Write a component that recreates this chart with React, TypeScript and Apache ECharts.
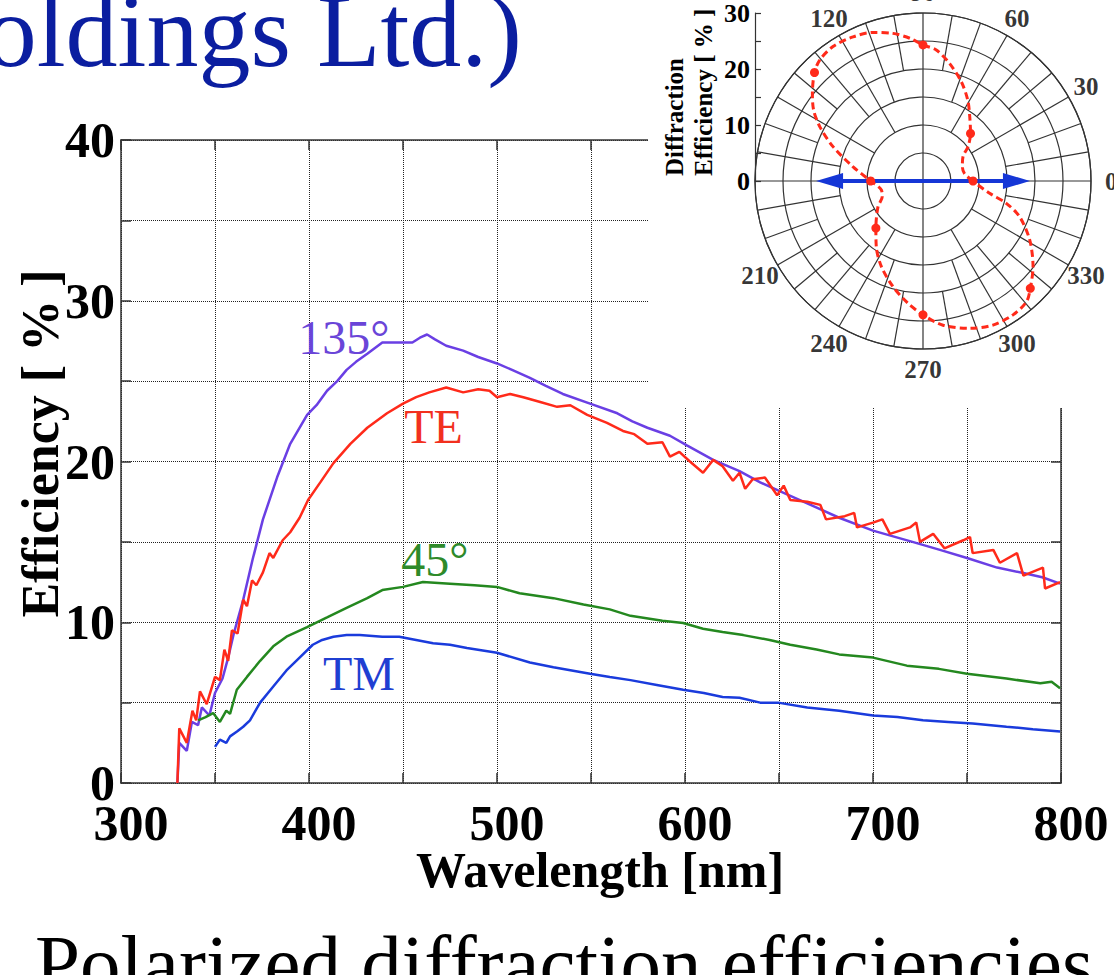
import React, { useEffect, useRef } from 'react';
import * as echarts from 'echarts';

const SERIF = "'Liberation Serif', 'Times New Roman', Times, serif";

// ---- Main chart data: [wavelength nm, efficiency %] ----
const te135Data = [[330,0],[331,2.5],[335,2.0],[337.7,3.8],[341,3.6],[343,4.7],[347,4.2],[350,5.6],[354,6.5],[357,7.8],[360,9.3],[365,11.4],[370,13.9],[375.5,16.4],[383,19.0],[390,21.1],[399,22.9],[404,23.5],[409.6,24.4],[415,25.0],[420,25.7],[425,26.2],[431,26.7],[439,27.4],[445,27.4],[450,27.4],[455,27.4],[459,27.7],[462.8,27.9],[467,27.6],[473,27.2],[482,26.9],[490,26.5],[500,26.1],[508,25.7],[517.5,25.2],[526,24.7],[535,24.2],[549.5,23.6],[564,23.0],[572,22.5],[580,22.1],[592,21.6],[601,21.0],[615,20.1],[629,19.4],[640,18.7],[649.5,18.2],[665,17.4],[682,16.5],[700,15.7],[721,15.0],[735.6,14.5],[750,14.0],[766,13.4],[780,13.06],[790,12.8],[799.5,12.4]];

const teData = [[330,0],[331,3.4],[335,2.5],[338,4.5],[340,3.9],[342,5.7],[345.6,4.9],[350,6.6],[352.6,6.4],[355,8.3],[357,7.6],[359,9.5],[362,9.3],[365,11.4],[367,11.0],[369.7,12.6],[372,12.3],[375.5,13.1],[379,14.3],[381,14.0],[386,15.1],[390,15.6],[395,16.5],[399.5,17.6],[406,18.7],[413,19.9],[422,21.1],[431,22.1],[441.5,23.0],[450,23.6],[457,24.0],[464,24.3],[473,24.6],[482,24.3],[490,24.5],[496,24.4],[500,24.0],[507,24.2],[514,24.0],[523,23.7],[532,23.4],[539,23.5],[548,22.9],[558.5,22.4],[567,21.9],[573,21.7],[580,21.1],[588,21.2],[592,20.3],[597,20.6],[602.6,20.0],[609.6,19.3],[615,20.1],[620,19.7],[625.5,18.8],[629,19.3],[632,18.3],[636,18.9],[642.5,19.0],[649,17.9],[652.5,18.5],[656,17.6],[665,17.5],[672,17.3],[675,16.4],[685,16.6],[690,16.8],[691.5,15.9],[700,16.2],[705,16.4],[709,15.5],[719.7,15.9],[723,16.2],[725,15.0],[732,15.5],[738,14.6],[748,15.1],[751.6,15.3],[753,14.3],[764,14.5],[767.5,13.7],[776.6,14.3],[780,12.9],[790.4,13.4],[791.5,12.1],[799.5,12.5]];

const te45Data = [[341,3.9],[345,4.1],[349,4.35],[352.6,3.8],[356,4.5],[358,4.3],[361.6,5.8],[367,6.6],[374,7.6],[381,8.5],[388,9.1],[399,9.7],[409.6,10.3],[420,10.9],[431,11.5],[439,12.0],[450,12.2],[460.6,12.5],[475,12.4],[488,12.3],[500,12.2],[512,11.8],[530,11.5],[546,11.1],[560,10.8],[571,10.4],[588,10.1],[599,9.95],[609.6,9.6],[620,9.4],[631,9.2],[645,8.9],[656,8.6],[670,8.3],[682,8.0],[700,7.8],[718,7.3],[735,7.1],[750,6.8],[771,6.5],[789,6.2],[795,6.3],[799.5,5.9]];

const tmData = [[350,2.25],[352.6,2.7],[356,2.5],[358,2.9],[361.7,3.2],[365,3.5],[368.6,3.9],[374,5.0],[381,6.0],[388,7.0],[395,7.8],[402,8.6],[407,8.9],[413,9.1],[420,9.2],[427,9.2],[439,9.1],[448,9.1],[457,8.9],[466,8.7],[475,8.6],[484,8.4],[500,8.1],[517.5,7.5],[530,7.2],[549.5,6.8],[560,6.6],[571,6.4],[585,6.1],[599,5.8],[610,5.6],[620,5.35],[629,5.3],[640,5.0],[649.5,5.0],[665,4.7],[682,4.5],[700,4.2],[713,4.1],[726.6,3.9],[740,3.8],[753,3.7],[771,3.5],[785,3.35],[799.5,3.2]];

const seriesNames = ['135°', 'TE', '45°', 'TM'];
const seriesColors = ['#6a3fe4', '#ff2a1a', '#24881f', '#1a3bdc'];
const labelColors = ['#6a45d8', '#f2301e', '#2e8a2a', '#1f3fd2'];
const labelAnchors = [[418.6, 27.7], [466.2, 22.2], [467, 13.9], [426.6, 6.8]];

// ---- Inset polar data: [efficiency %, polarization angle deg] ----
const polarCurve = [[8.93,0],[7.55,9.5],[7.48,20],[8.36,31.3],[10.1,37.3],[12.0,45],[14.2,54],[16.5,61],[19.0,68.9],[21.5,77.2],[23.5,84.2],[24.3,90],[25.6,95.3],[26.9,101.5],[28.0,108.6],[28.6,115.9],[28.9,123.8],[28.4,130.5],[27.4,135],[25.2,141.6],[23.3,147],[20.8,152.3],[17.2,159.1],[12.8,168.4],[9.35,180],[7.6,192.2],[7.8,201],[9.25,209.7],[11.9,225],[14.4,234.6],[17.0,244.1],[19.6,254.1],[22.0,263],[23.9,270],[26.0,277.9],[27.6,287.6],[28.6,295.9],[28.8,303.9],[28.4,310.6],[27.1,315],[24.9,322.1],[21.8,331],[18.4,339.7],[15.4,345],[12.1,349.5],[9.85,355.8],[8.93,360]];
const polarMarkers = [[8.93,0],[12.0,45],[24.3,90],[27.4,135],[9.35,180],[11.9,225],[23.9,270],[27.1,315]];
const arrowTips = [[19.1, 0], [19.1, 180]];

const angleLabelValues = [0, 30, 60, 90, 120, 210, 240, 270, 300, 330];
const angleLabelRadius = 33.6;

// spokes: angle sets and the radius (%) where they start
const spokesAxes = [0, 90, 180, 270];
const spokes30 = [30, 60, 120, 150, 210, 240, 300, 330];
const spokes20 = [10, 50, 70, 110, 130, 170, 190, 230, 250, 290, 310, 350];
const spokes10 = [20, 40, 80, 100, 140, 160, 200, 220, 260, 280, 320, 340];
const spokeStarts = [0, 10, 15, 20];

const xTicks = { min: 300, max: 800, step: 50, labelStep: 100 };
const yTicks = { min: 0, max: 40, step: 5, labelStep: 10 };
const rTicks = { min: 0, max: 30, step: 5, labelStep: 10 };

function buildOption() {
  const axisColor = '#333';
  const spokesData: number[][] = [];
  [spokesAxes, spokes30, spokes20, spokes10].forEach((set, i) => {
    set.forEach((a) => spokesData.push([spokeStarts[i], a]));
  });

  const mainSeries = [te135Data, teData, te45Data, tmData].map((d, i) => ({
    type: 'line',
    name: seriesNames[i],
    xAxisIndex: 0,
    yAxisIndex: 0,
    data: d,
    showSymbol: false,
    symbol: 'none',
    lineStyle: { color: seriesColors[i], width: 2.5 },
    itemStyle: { color: seriesColors[i] },
    z: 2,
    markPoint: {
      symbol: 'circle',
      symbolSize: 1,
      silent: true,
      itemStyle: { color: 'rgba(0,0,0,0)' },
      label: {
        show: true,
        position: 'inside',
        formatter: seriesNames[i],
        color: labelColors[i],
        fontFamily: SERIF,
        fontSize: 48,
        lineHeight: 44,
        fontWeight: 'normal',
      },
      data: [{ coord: labelAnchors[i] }],
    },
  }));

  const mainX = (pos: string, labels: boolean) => ({
    type: 'value',
    gridIndex: 0,
    position: pos,
    min: xTicks.min,
    max: xTicks.max,
    interval: xTicks.step,
    axisLine: { show: true, onZero: false, lineStyle: { color: axisColor, width: 1.5 } },
    axisTick: { show: true, inside: true, length: 10, lineStyle: { color: axisColor, width: 1.5 } },
    splitLine: { show: labels, lineStyle: { color: '#222', width: 1, type: 'dotted' } },
    axisLabel: labels
      ? {
          show: true,
          formatter: (v: number) => (v % xTicks.labelStep === 0 ? String(v) : ''),
          fontFamily: SERIF,
          fontWeight: 'bold',
          fontSize: 50,
          lineHeight: 38,
          color: '#000',
          margin: 21,
          padding: [0, 0, 0, 20],
          showMinLabel: true,
          showMaxLabel: true,
          hideOverlap: false,
        }
      : { show: false },
    name: labels ? 'Wavelength [nm]' : '',
    nameLocation: 'middle',
    nameGap: 67,
    nameMoveOverlap: false,
    nameTextStyle: {
      fontFamily: SERIF,
      fontWeight: 'bold',
      fontSize: 50,
      lineHeight: 40,
      color: '#000',
      padding: [0, 0, 0, 18],
    },
  });

  const mainY = (pos: string, labels: boolean) => ({
    type: 'value',
    gridIndex: 0,
    position: pos,
    min: yTicks.min,
    max: yTicks.max,
    interval: yTicks.step,
    axisLine: { show: true, onZero: false, lineStyle: { color: axisColor, width: 1.5 } },
    axisTick: { show: true, inside: true, length: 10, lineStyle: { color: axisColor, width: 1.5 } },
    splitLine: { show: labels, lineStyle: { color: '#222', width: 1, type: 'dotted' } },
    axisLabel: labels
      ? {
          show: true,
          formatter: (v: number) => (v % yTicks.labelStep === 0 ? String(v) : ''),
          fontFamily: SERIF,
          fontWeight: 'bold',
          fontSize: 50,
          lineHeight: 34,
          color: '#000',
          margin: 6,
          showMinLabel: true,
          showMaxLabel: true,
          hideOverlap: false,
        }
      : { show: false },
    name: labels ? 'Efficiency [ % ]' : '',
    nameLocation: 'middle',
    nameGap: 55,
    nameMoveOverlap: false,
    nameTextStyle: {
      fontFamily: SERIF,
      fontWeight: 'bold',
      fontSize: 52,
      color: '#000',
      padding: [0, 0, 0, 36],
    },
  });

  return {
    animation: false,
    backgroundColor: '#fff',
    grid: [
      { left: 121, top: 140, width: 940, height: 643, show: false, containLabel: false, outerBoundsMode: 'none' },
      { left: 755, top: 13, width: 20, height: 168, show: false, containLabel: false, outerBoundsMode: 'none' },
    ],
    xAxis: [
      mainX('bottom', true),
      mainX('top', false),
      { type: 'value', gridIndex: 1, min: 0, max: 1, show: false },
    ],
    yAxis: [
      mainY('left', true),
      mainY('right', false),
      {
        type: 'value',
        gridIndex: 1,
        position: 'left',
        min: rTicks.min,
        max: rTicks.max,
        interval: rTicks.step,
        z: 3,
        axisLine: { show: true, onZero: false, lineStyle: { color: '#333', width: 1.2 } },
        axisTick: { show: true, inside: true, length: 6, lineStyle: { color: '#333', width: 1.2 } },
        splitLine: { show: false },
        axisLabel: {
          show: true,
          formatter: (v: number) => (v % rTicks.labelStep === 0 ? String(v) : ''),
          fontFamily: SERIF,
          fontWeight: 'bold',
          fontSize: 26,
          lineHeight: 22,
          color: '#000',
          margin: 5,
          showMinLabel: true,
          showMaxLabel: true,
          hideOverlap: false,
        },
      },
    ],
    polar: { center: [923, 181], radius: [0, 168] },
    angleAxis: {
      type: 'value',
      polarIndex: 0,
      min: 0,
      max: 360,
      interval: 30,
      startAngle: 0,
      clockwise: false,
      z: 3,
      axisLine: { show: true, lineStyle: { color: '#333', width: 1.2 } },
      axisTick: { show: false },
      axisLabel: { show: false },
      splitLine: { show: false },
    },
    radiusAxis: {
      type: 'value',
      polarIndex: 0,
      min: rTicks.min,
      max: rTicks.max,
      interval: rTicks.step,
      z: 3,
      axisLine: { show: false },
      axisTick: { show: false },
      axisLabel: { show: false },
      splitLine: { show: true, lineStyle: { color: '#333', width: 1.2 } },
    },
    graphic: {
      elements: [
        {
          type: 'rect',
          silent: true,
          z: 1,
          shape: { x: 648, y: 0, width: 466, height: 408 },
          style: { fill: '#fff' },
        },
        {
          type: 'text',
          silent: true,
          z: 1,
          x: 522,
          y: 30,
          style: {
            text: 'oldings Ltd.)',
            fontFamily: SERIF,
            fontSize: 104,
            fill: '#0b1ea0',
            align: 'right',
            verticalAlign: 'middle',
          },
        },
        {
          type: 'text',
          silent: true,
          z: 1,
          x: 35,
          y: 964,
          style: {
            text: 'Polarized diffraction efficiencies',
            fontFamily: SERIF,
            fontSize: 81,
            fill: '#000',
            align: 'left',
            verticalAlign: 'middle',
          },
        },
        {
          type: 'text',
          silent: true,
          z: 5,
          x: 689,
          y: 176,
          rotation: Math.PI / 2,
          style: {
            text: 'Diffraction\nEfficiency [ % ]',
            fontFamily: SERIF,
            fontWeight: 'bold',
            fontSize: 25,
            lineHeight: 29,
            fill: '#000',
            align: 'left',
            verticalAlign: 'middle',
          },
        },
      ],
    },
    series: [
      ...mainSeries,
      {
        type: 'custom',
        coordinateSystem: 'polar',
        polarIndex: 0,
        silent: true,
        z: 3,
        clip: false,
        data: spokesData,
        renderItem: (params: any, api: any) => {
          const r0 = api.value(0);
          const a = api.value(1);
          const p0 = api.coord([r0, a]);
          const p1 = api.coord([rTicks.max, a]);
          return {
            type: 'line',
            shape: { x1: p0[0], y1: p0[1], x2: p1[0], y2: p1[1] },
            style: { stroke: '#333', lineWidth: 1.2 },
          };
        },
      },
      {
        type: 'custom',
        coordinateSystem: 'polar',
        polarIndex: 0,
        silent: true,
        z: 4,
        clip: false,
        data: arrowTips,
        renderItem: (params: any, api: any) => {
          const r = api.value(0);
          const a = api.value(1);
          const c = api.coord([0, a]);
          const tip = api.coord([r, a]);
          const dx = tip[0] - c[0];
          const dy = tip[1] - c[1];
          const len = Math.hypot(dx, dy) || 1;
          const ux = dx / len;
          const uy = dy / len;
          const hl = 27;
          const hw = 8;
          const bx = tip[0] - ux * hl;
          const by = tip[1] - uy * hl;
          return {
            type: 'group',
            children: [
              {
                type: 'line',
                shape: { x1: c[0], y1: c[1], x2: bx + ux * 2, y2: by + uy * 2 },
                style: { stroke: '#1536d6', lineWidth: 4 },
              },
              {
                type: 'polygon',
                shape: {
                  points: [
                    [tip[0], tip[1]],
                    [bx - uy * hw, by + ux * hw],
                    [bx + uy * hw, by - ux * hw],
                  ],
                },
                style: { fill: '#1536d6' },
              },
            ],
          };
        },
      },
      {
        type: 'line',
        coordinateSystem: 'polar',
        polarIndex: 0,
        data: polarCurve,
        showSymbol: false,
        symbol: 'none',
        smooth: 0.3,
        z: 5,
        clip: false,
        lineStyle: { color: '#ff2a1a', width: 3, type: [7, 4] },
        silent: true,
      },
      {
        type: 'scatter',
        coordinateSystem: 'polar',
        polarIndex: 0,
        data: polarMarkers,
        symbolSize: 9,
        z: 6,
        clip: false,
        itemStyle: { color: '#ff2a1a', opacity: 1 },
        silent: true,
      },
      {
        type: 'scatter',
        coordinateSystem: 'polar',
        polarIndex: 0,
        data: angleLabelValues.map((a) => [angleLabelRadius, a]),
        symbolSize: 1,
        z: 4,
        clip: false,
        silent: true,
        itemStyle: { color: 'rgba(0,0,0,0)' },
        label: {
          show: true,
          position: 'inside',
          formatter: (p: any) => String(p.value[1]),
          fontFamily: SERIF,
          fontWeight: 'bold',
          fontSize: 25,
          lineHeight: 22,
          color: '#000',
        },
        labelLayout: { hideOverlap: false },
      },
    ],
  };
}

export default function App() {
  const ref = useRef<HTMLDivElement>(null);
  useEffect(() => {
    if (!ref.current) return;
    const chart = echarts.init(ref.current, null, { renderer: 'svg' });
    chart.setOption(buildOption() as any);
    return () => chart.dispose();
  }, []);
  return (
    <div
      ref={ref}
      style={{ position: 'fixed', left: 0, top: 0, width: 1114, height: 975, background: '#fff' }}
    />
  );
}
